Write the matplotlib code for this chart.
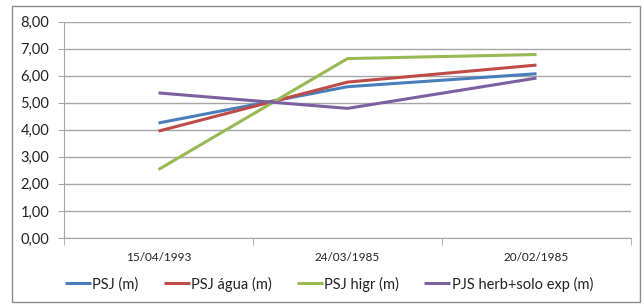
import matplotlib
matplotlib.use("Agg")
import matplotlib.pyplot as plt
from matplotlib.patches import Rectangle

categories = ["15/04/1993", "24/03/1985", "20/02/1985"]
psj = [4.25, 5.59, 6.07]
psj_agua = [3.95, 5.76, 6.39]
psj_higr = [2.53, 6.63, 6.78]
pjs_herb = [5.36, 4.79, 5.91]
series_names = ["PSJ (m)", "PSJ água (m)", "PSJ higr (m)", "PJS herb+solo exp (m)"]
yticks = [0, 1, 2, 3, 4, 5, 6, 7, 8]

colors = ["#4A7EBB", "#BE4B48", "#98B954", "#7D60A0"]

plt.rcParams['font.family'] = ['Lato', 'DejaVu Sans']

fig = plt.figure(figsize=(6.44, 3.04), dpi=100)
W, H = 644, 304
ax = fig.add_axes([64 / W, 1 - 238 / H, (631 - 64) / W, (238 - 21.5) / H])

x = list(range(len(categories)))
for vals, name, c in zip([psj, psj_agua, psj_higr, pjs_herb], series_names, colors):
    ax.plot(x, vals, color=c, lw=2.2, label=name, solid_capstyle='butt')

ax.set_xlim(-0.5, len(categories) - 0.5)
ax.set_ylim(0, 8)
ax.set_yticks(yticks)
ax.set_yticklabels([f"{v:.2f}".replace(".", ",") for v in yticks], fontsize=10.5, color="#222222")
ax.yaxis.grid(True, color="#A6A6A6", lw=1)
ax.set_axisbelow(True)
ax.set_xticks(x)
ax.set_xticklabels(categories, fontsize=8.5, color="#222222")
ax.tick_params(axis='x', length=0, pad=10)
ax.set_xticks([i + 0.5 for i in range(-1, len(categories))], minor=True)
ax.tick_params(axis='x', which='minor', length=5, color="#A6A6A6", direction='out')
ax.tick_params(axis='y', length=4.5, color="#A6A6A6", direction='out', pad=6)
for s in ['top', 'right']:
    ax.spines[s].set_visible(False)
ax.spines['left'].set_color("#A6A6A6")
ax.spines['bottom'].set_color("#A6A6A6")

leg = fig.legend(loc='center', bbox_to_anchor=(329 / W, 1 - 284 / H), ncol=4, frameon=False,
                 fontsize=10.5, handlelength=1.8, handletextpad=0.1, columnspacing=1.7)
for t in leg.get_texts():
    t.set_color("#222222")

fig.patches.append(Rectangle((12.5 / W, 2 / H), (640 - 12.5) / W, (298 - 2) / H, transform=fig.transFigure,
                             fill=False, edgecolor="#8C8C8C", lw=1))

fig.savefig("out.png", dpi=100)
